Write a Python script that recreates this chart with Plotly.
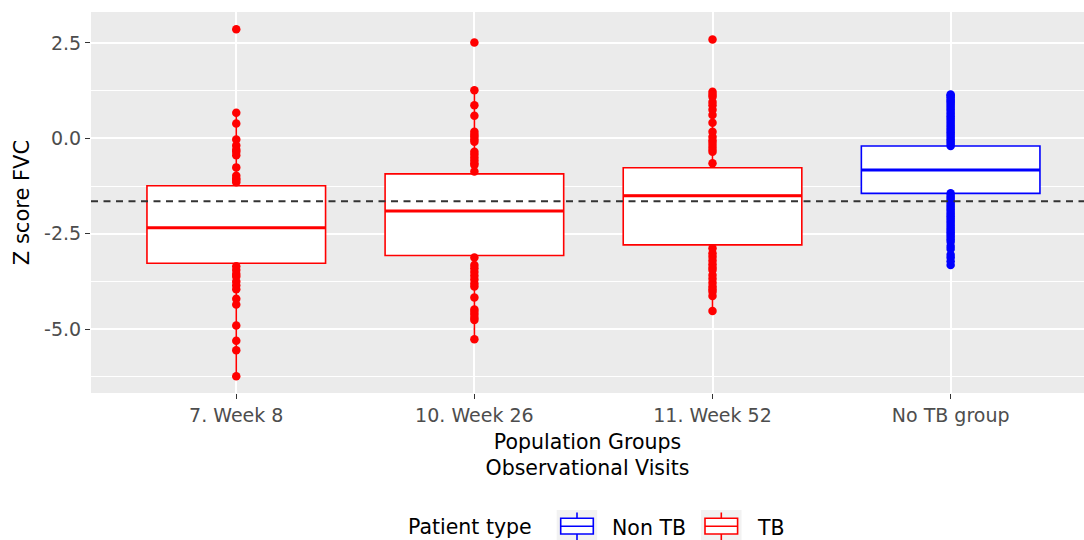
import plotly.graph_objects as go

categories = ["7. Week 8", "10. Week 26", "11. Week 52", "No TB group"]

# TB boxes (first three categories)
tb_cats = categories[:3]
tb_q1 = [-3.27, -3.07, -2.79]
tb_median = [-2.34, -1.90, -1.50]
tb_q3 = [-1.24, -0.93, -0.77]
tb_lower = [-6.23, -5.26, -4.52]
tb_upper = [0.67, 1.26, 1.22]

# Non TB box
ntb_cats = categories[3:]
ntb_q1 = [-1.44]
ntb_median = [-0.83]
ntb_q3 = [-0.20]
ntb_lower = [-3.32]
ntb_upper = [1.15]

# Visible points (outside the boxes)
pts_week8 = [2.86, 0.67, 0.39, -0.03, -0.19, -0.30, -0.35, -0.44, -0.76, -0.98, -1.05, -1.09, -1.15,
             -3.35, -3.45, -3.55, -3.62, -3.75, -3.85, -3.95, -4.20, -4.35, -4.90, -5.30, -5.55, -6.23]
pts_week26 = [2.51, 1.26, 0.87, 0.59, 0.17, 0.10, 0.05, -0.02, -0.09, -0.35, -0.42, -0.50, -0.58, -0.65,
              -0.70, -0.87, -3.12, -3.32, -3.40, -3.50, -3.60, -3.70, -3.80, -3.88, -4.17, -4.48,
              -4.55, -4.62, -4.70, -4.76, -5.26]
pts_week52 = [2.59, 1.22, 1.15, 1.09, 0.95, 0.87, 0.75, 0.61, 0.41, 0.17, 0.04, -0.05, -0.12, -0.20,
              -0.28, -0.35, -0.65, -2.88, -3.01, -3.10, -3.20, -3.30, -3.38, -3.45, -3.58, -3.68,
              -3.78, -3.88, -3.95, -4.02, -4.13, -4.52]
pts_notb = [1.15, 1.12, 1.08, 1.02, 0.98, 0.93, 0.88, 0.82, 0.76, 0.70, 0.64, 0.58, 0.52, 0.46,
            0.40, 0.34, 0.28, 0.22, 0.16, 0.10, 0.04, -0.02, -0.08, -0.14, -0.20,
            -1.44, -1.50, -1.56, -1.62, -1.68, -1.74, -1.80, -1.86, -1.92, -1.98, -2.04, -2.10,
            -2.16, -2.22, -2.28, -2.34, -2.40, -2.46, -2.52, -2.58, -2.64, -2.71, -2.82,
            -2.90, -3.05, -3.12, -3.22, -3.32]

ref_line = -1.645

legend_title = "Patient type"
legend_names = ["Non TB", "TB"]

RED = "#FF0000"
BLUE = "#0000FF"
legend_colors = [BLUE, RED]

W, H = 1084, 540
ML, MR, MT, MB = 91, 0, 12, 147
PW, PH = W - ML - MR, H - MT - MB


def px(xp):
    return (xp - ML) / PW


def py(yp):
    return (H - MB - yp) / PH


fig = go.Figure()

fig.add_trace(go.Box(
    name="Non TB", x=ntb_cats, q1=ntb_q1, median=ntb_median, q3=ntb_q3,
    lowerfence=ntb_lower, upperfence=ntb_upper,
    fillcolor="white", line=dict(color=BLUE, width=1.6), whiskerwidth=0,
    width=0.75, boxpoints=False, showlegend=False,
))
fig.add_trace(go.Box(
    name="TB", x=tb_cats, q1=tb_q1, median=tb_median, q3=tb_q3,
    lowerfence=tb_lower, upperfence=tb_upper,
    fillcolor="white", line=dict(color=RED, width=1.6), whiskerwidth=0,
    width=0.75, boxpoints=False, showlegend=False,
))

for cat, vals, col in [(categories[0], pts_week8, RED), (categories[1], pts_week26, RED),
                       (categories[2], pts_week52, RED), (categories[3], pts_notb, BLUE)]:
    fig.add_trace(go.Scatter(
        x=[cat] * len(vals), y=vals, mode="markers",
        marker=dict(color=col, size=8.5, line=dict(width=0)),
        showlegend=False, hoverinfo="y",
    ))

# thicker median lines (ggplot style)
for cats, meds, col in [(tb_cats, tb_median, RED), (ntb_cats, ntb_median, BLUE)]:
    for c, m in zip(cats, meds):
        i = categories.index(c)
        fig.add_shape(type="line", xref="x", yref="y", x0=i - 0.375, x1=i + 0.375, y0=m, y1=m,
                      line=dict(color=col, width=3), layer="above")

fig.add_shape(type="line", xref="paper", x0=0, x1=1, yref="y", y0=ref_line, y1=ref_line,
              line=dict(color="#333333", width=2, dash="7px,5.5px"), layer="above")

font_family = "DejaVu Sans, Liberation Sans, Arial, sans-serif"

# manual ggplot-style legend
fig.add_annotation(text=legend_title, xref="paper", yref="paper", x=px(406), y=py(527),
                   xanchor="left", yanchor="middle", showarrow=False,
                   font=dict(size=20.5, color="#000000", family=font_family))
key_left = [556.7, 701.0]
for k, (name, col) in enumerate(zip(legend_names, legend_colors)):
    x0 = key_left[k]
    fig.add_shape(type="rect", xref="paper", yref="paper", x0=px(x0), x1=px(x0 + 40.5),
                  y0=py(546), y1=py(510), line=dict(width=0), fillcolor="#F2F2F2", layer="above")
    xc = x0 + 20.3
    fig.add_shape(type="line", xref="paper", yref="paper", x0=px(xc), x1=px(xc),
                  y0=py(512.5), y1=py(518.3), line=dict(color=col, width=1.6), layer="above")
    fig.add_shape(type="line", xref="paper", yref="paper", x0=px(xc), x1=px(xc),
                  y0=py(534), y1=py(546), line=dict(color=col, width=1.6), layer="above")
    fig.add_shape(type="rect", xref="paper", yref="paper", x0=px(x0 + 4), x1=px(x0 + 36.6),
                  y0=py(534), y1=py(518.3), line=dict(color=col, width=1.6),
                  fillcolor="white", layer="above")
    fig.add_shape(type="line", xref="paper", yref="paper", x0=px(x0 + 4), x1=px(x0 + 36.6),
                  y0=py(526.2), y1=py(526.2), line=dict(color=col, width=1.6), layer="above")
    fig.add_annotation(text=name, xref="paper", yref="paper", x=px(x0 + 53.5), y=py(527.5),
                       xanchor="left", yanchor="middle", showarrow=False,
                       font=dict(size=20.5, color="#000000", family=font_family))

fig.update_layout(
    width=W, height=H,
    margin=dict(l=ML, r=MR, t=MT, b=MB),
    paper_bgcolor="white",
    plot_bgcolor="#EBEBEB",
    font=dict(family=font_family, color="#000000"),
    boxmode="overlay",
    showlegend=False,
    xaxis=dict(
        type="category", categoryorder="array", categoryarray=categories,
        range=[-0.61, 3.56], automargin=False,
        showgrid=True, gridcolor="white", gridwidth=2,
        ticks="outside", ticklen=5, tickcolor="#333333", tickwidth=1.2,
        tickfont=dict(size=19, color="#4D4D4D"),
        title=dict(text="Population Groups<br>Observational Visits",
                   font=dict(size=20.5, color="#000000"), standoff=9),
        zeroline=False, showline=False,
    ),
    yaxis=dict(
        range=[-6.67, 3.31], automargin=False,
        tickvals=[-5, -2.5, 0, 2.5], ticktext=["-5.0", "-2.5", "0.0", "2.5"],
        showgrid=True, gridcolor="white", gridwidth=2,
        minor=dict(tickvals=[-6.25, -3.75, -1.25, 1.25], showgrid=True,
                   gridcolor="white", gridwidth=1.2, ticks=""),
        ticks="outside", ticklen=5, tickcolor="#333333", tickwidth=1.2,
        tickfont=dict(size=19, color="#4D4D4D"),
        title=dict(text="Z score FVC", font=dict(size=21, color="#000000"), standoff=8),
        zeroline=False, showline=False,
    ),
)

fig.write_html("out.html", config={"displayModeBar": False},
               post_script="document.body.style.margin='0';document.body.style.overflow='hidden';")
